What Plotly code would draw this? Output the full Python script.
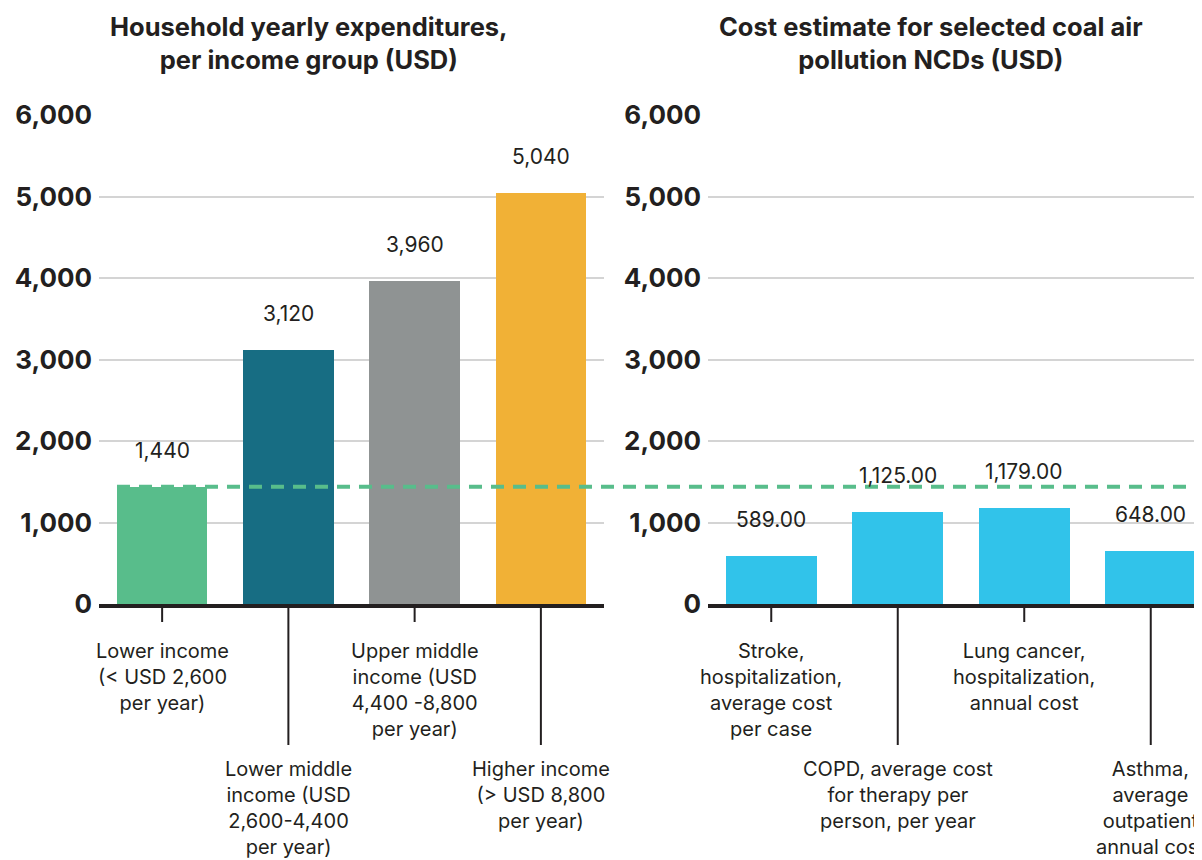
import plotly.graph_objects as go

# ---------------- data ----------------
income_groups = ["Lower income", "Lower middle income", "Upper middle income", "Higher income"]
income_labels = [
    "Lower income<br>(&lt; USD 2,600<br>per year)",
    "Lower middle<br>income (USD<br>2,600-4,400<br>per year)",
    "Upper middle<br>income (USD<br>4,400 -8,800<br>per year)",
    "Higher income<br>(&gt; USD 8,800<br>per year)",
]
household_expenditure = [1440, 3120, 3960, 5040]
income_colors = ["#58bd8b", "#176d83", "#8f9393", "#f1b136"]

ncd_items = ["Stroke", "COPD", "Lung cancer", "Asthma"]
ncd_labels = [
    "Stroke,<br>hospitalization,<br>average cost<br>per case",
    "COPD, average cost<br>for therapy per<br>person, per year",
    "Lung cancer,<br>hospitalization,<br>annual cost",
    "Asthma,<br>average<br>outpatient<br>annual cost",
]
ncd_cost = [589.00, 1125.00, 1179.00, 648.00]
ncd_color = "#31c3ea"

reference_value = 1440  # lower income household expenditure
y_ticks = [0, 1000, 2000, 3000, 4000, 5000, 6000]

left_title = "Household yearly expenditures,<br>per income group (USD)"
right_title = "Cost estimate for selected coal air<br>pollution NCDs (USD)"

# ---------------- layout geometry ----------------
W, H = 1202, 860
OFF = 8  # page body margin in the browser


def px_x(p):
    return (p - OFF) / W


def px_y(p):
    return 1 - (p - OFF) / H


FONT = "Inter"
TXT = "#231f20"
x1_dom = [px_x(99), px_x(604)]
x2_dom = [px_x(708), 1.0]
y_dom = [px_y(604), px_y(115)]
step_px = 126.5
x2_range = [-0.5, -0.5 + (x2_dom[1] - x2_dom[0]) * W / step_px]

fig = go.Figure()

fig.add_trace(go.Bar(
    x=list(range(len(income_groups))), y=household_expenditure,
    marker=dict(color=income_colors, line=dict(width=0)),
    width=0.715, xaxis="x", yaxis="y", hoverinfo="skip",
))
fig.add_trace(go.Bar(
    x=list(range(len(ncd_items))), y=ncd_cost,
    marker=dict(color=ncd_color, line=dict(width=0)),
    width=0.72, xaxis="x2", yaxis="y2", hoverinfo="skip",
))

yaxis_common = dict(
    range=[0, 6000], domain=y_dom, tickvals=y_ticks,
    tickformat=",d", showgrid=True, gridcolor="#d4d4d4", gridwidth=2,
    zeroline=False, showline=False, ticks="", automargin=False,
    tickfont=dict(family=FONT, size=26, color=TXT, weight=700),
    ticklabelstandoff=6, fixedrange=True,
)
xaxis_common = dict(
    showgrid=False, zeroline=False, showline=True, linecolor=TXT, linewidth=4,
    showticklabels=False, ticks="", fixedrange=True, automargin=False,
)

fig.update_layout(
    width=W, height=H,
    margin=dict(l=0, r=0, t=0, b=0, pad=0),
    paper_bgcolor="white", plot_bgcolor="white",
    showlegend=False, bargap=0,
    font=dict(family=FONT, color=TXT),
    xaxis=dict(domain=x1_dom, range=[-0.5, 3.5], anchor="y", **xaxis_common),
    yaxis=dict(anchor="x", **yaxis_common),
    xaxis2=dict(domain=x2_dom, range=x2_range, anchor="y2", **xaxis_common),
    yaxis2=dict(anchor="x2", **yaxis_common),
)

annotations = []
shapes = []

# titles
for txt, cx in [(left_title, px_x(309)), (right_title, px_x(931))]:
    annotations.append(dict(
        text=txt, xref="paper", yref="paper", x=cx, y=px_y(9),
        xanchor="center", yanchor="top", showarrow=False, align="center",
        font=dict(family=FONT, size=25.5, color=TXT, weight=700),
    ))


def add_panel(xref, values, fmt, labels):
    for i, (v, lab) in enumerate(zip(values, labels)):
        annotations.append(dict(
            text=fmt.format(v), xref=xref, yref="y", x=i, y=v,
            xanchor="center", yanchor="bottom", yshift=22, showarrow=False,
            font=dict(family=FONT, size=21, color=TXT),
        ))
        long_tick = (i % 2 == 1)
        tick_len = 141 if long_tick else 18
        shapes.append(dict(
            type="line", xref=xref, yref="paper", x0=i, x1=i,
            y0=y_dom[0], y1=y_dom[0] - tick_len / H,
            line=dict(color=TXT, width=2), layer="above",
        ))
        annotations.append(dict(
            text=lab, xref=xref, yref="paper", x=i, y=y_dom[0],
            xanchor="center", yanchor="top", yshift=-151 if long_tick else -33,
            showarrow=False, align="center",
            font=dict(family=FONT, size=20, color=TXT),
        ))


add_panel("x", household_expenditure, "{:,.0f}", income_labels)
add_panel("x2", ncd_cost, "{:,.2f}", ncd_labels)

# dashed reference line across both panels starting at the first bar's left edge
bar_left_idx = 0 - 0.715 / 2
x0_paper = x1_dom[0] + (bar_left_idx + 0.5) / 4 * (x1_dom[1] - x1_dom[0])
shapes.append(dict(
    type="line", xref="paper", yref="y", x0=x0_paper, x1=1.0,
    y0=reference_value, y1=reference_value,
    line=dict(color="#58bd8b", width=4, dash="13px,9px"), layer="above",
))

fig.update_layout(annotations=annotations, shapes=shapes)
fig.write_html("out.html")
